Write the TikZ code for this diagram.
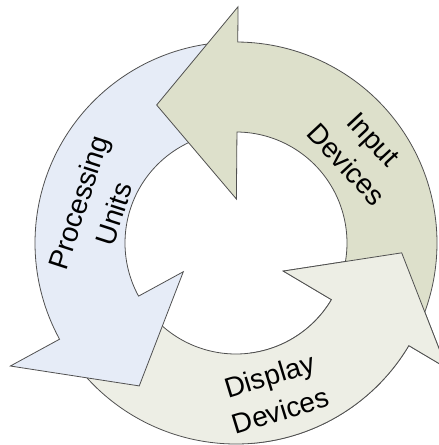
\documentclass[tikz,border=0pt]{standalone}
\usepackage{fontspec}
\setmainfont{Liberation Sans}
\definecolor{inputfill}{RGB}{221,224,203}
\definecolor{procfill}{RGB}{230,236,247}
\definecolor{dispfill}{RGB}{237,238,229}
\definecolor{edgegray}{RGB}{80,80,80}
\begin{document}
\begin{tikzpicture}[x=1pt,y=1pt,
  cyclearrow/.style={draw=edgegray, line width=0.8pt, line join=miter},
  lbl/.style={font=\fontsize{28}{37}\selectfont, align=center, inner sep=0pt, text=black}]
\useasboundingbox (-236,-202) rectangle (203,243);
\clip (-236,-202) rectangle (203,243);

% ring: outer radius 201, inner radius 111, centred at the origin
% Display Devices arrow (tail at 215, head base at 329.3)
\path[cyclearrow, fill=dispfill]
  (215:111) -- (215:201) arc[start angle=215, end angle=329.3, radius=201]
  -- (329.3:245) -- (356.6:166) -- (329.3:55) -- (329.3:111)
  arc[start angle=329.3, end angle=215, radius=111] -- cycle;

% Processing Units arrow (tail at 95, head base at 208.6)
\path[cyclearrow, fill=procfill]
  (95:111) -- (95:201) arc[start angle=95, end angle=208.6, radius=201]
  -- (208.6:257) -- (235.9:172.6) -- (208.6:60) -- (208.6:111)
  arc[start angle=208.6, end angle=95, radius=111] -- cycle;

% Input Devices arrow (tail at -22, head base at 89.5)
\path[cyclearrow, fill=inputfill]
  (-22:111) -- (-22:201) arc[start angle=-22, end angle=89.5, radius=201]
  -- (89.5:236.3) -- (119.9:159.2) -- (89.5:44) -- (89.5:111)
  arc[start angle=89.5, end angle=-22, radius=111] -- cycle;

% head of the Display Devices arrow lies over the tail of Input Devices
\begin{scope}
  \clip (14,-215) rectangle (230,13);
  \path[cyclearrow, fill=dispfill]
    (215:111) -- (215:201) arc[start angle=215, end angle=329.3, radius=201]
    -- (329.3:245) -- (356.6:166) -- (329.3:55) -- (329.3:111)
    arc[start angle=329.3, end angle=215, radius=111] -- cycle;
\end{scope}

% labels
\node[lbl, rotate=-47] (input) at (124,91) {Input\\Devices};
\node[lbl, rotate=72] (proc) at (-140,35) {Processing\\Units};
\node[lbl, rotate=17] (disp) at (39,-150) {Display\\Devices};
\end{tikzpicture}
\end{document}
